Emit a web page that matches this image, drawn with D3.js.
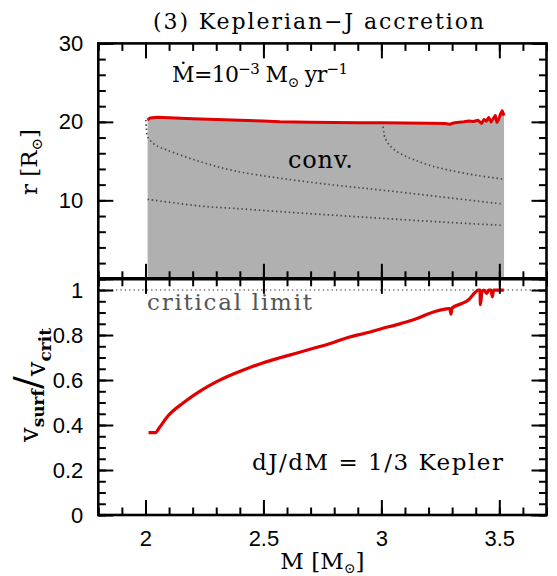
<!DOCTYPE html>
<html><head><meta charset="utf-8">
<script src="https://cdn.jsdelivr.net/npm/d3@7"></script>
<style>body{margin:0;background:#fff}</style>
</head><body>
<svg id="c" width="557" height="576"></svg>
<script>
// ---------- data ----------
const titleText = "(3) Keplerian\u2212J accretion";
const xMajorTicks = [2, 2.5, 3, 3.5];
const xTickLabels = ["2", "2.5", "3", "3.5"];
const rMajorTicks = [0, 10, 20, 30];
const rTickLabels = ["", "10", "20", "30"];
const vMajorTicks = [0, 0.2, 0.4, 0.6, 0.8, 1];
const vTickLabels = ["0", "0.2", "0.4", "0.6", "0.8", "1"];

// stellar radius (top panel, red line + convective region top)
const radiusMass = [2.009, 2.02, 2.05, 2.1, 2.2, 2.3, 2.4, 2.5, 2.57, 2.7, 2.8, 2.9, 3.0, 3.1, 3.2, 3.27, 3.29, 3.31, 3.35, 3.37, 3.39, 3.41, 3.425, 3.435, 3.445, 3.455, 3.465, 3.475, 3.483, 3.49, 3.497, 3.505, 3.512, 3.52];
const radiusR    = [20.24, 20.5, 20.58, 20.52, 20.4, 20.3, 20.2, 20.1, 20.02, 19.96, 19.92, 19.9, 19.88, 19.84, 19.82, 19.78, 19.7, 19.88, 20.02, 20.12, 20.05, 20.2, 19.82, 20.3, 20.1, 20.55, 20.0, 20.45, 20.8, 19.95, 20.3, 21.0, 21.4, 20.8];

// dotted inner structure lines (top panel)
const dot1Mass = [2.002, 2.004, 2.009, 2.04, 2.091, 2.233, 2.375, 2.574, 2.8, 3.0, 3.25, 3.515];
const dot1R    = [20.24, 19.2, 18.1, 17.1, 16.41, 14.92, 13.77, 12.8, 11.95, 11.31, 10.45, 9.53];
const dot2Mass = [2.009, 2.233, 2.375, 2.574, 2.8, 3.0, 3.25, 3.515];
const dot2R    = [10.13, 9.27, 8.98, 8.55, 8.1, 7.71, 7.25, 6.81];
const dot3Mass = [3.007, 3.01, 3.014, 3.03, 3.057, 3.1, 3.142, 3.2, 3.284, 3.4, 3.515];
const dot3R    = [19.38, 18.8, 18.11, 17.2, 16.41, 15.65, 15.14, 14.5, 13.86, 13.2, 12.71];

// surface velocity / critical (bottom panel)
const vMass = [2.013, 2.042, 2.06, 2.091, 2.162, 2.233, 2.3, 2.375, 2.44, 2.5, 2.574, 2.65, 2.716, 2.79, 2.858, 2.93, 3.0, 3.085, 3.142, 3.227, 3.27, 3.29, 3.295, 3.3, 3.341, 3.369, 3.398, 3.41, 3.418, 3.42, 3.426, 3.435, 3.447, 3.455, 3.465, 3.47, 3.476, 3.519];
const vRatio = [0.366, 0.366, 0.39, 0.435, 0.5, 0.552, 0.592, 0.628, 0.655, 0.677, 0.7, 0.722, 0.742, 0.765, 0.789, 0.808, 0.828, 0.852, 0.87, 0.905, 0.915, 0.918, 0.893, 0.92, 0.94, 0.956, 0.99, 1.0, 1.0, 0.935, 0.99, 1.0, 0.985, 1.0, 1.0, 0.97, 1.0, 1.0];
const criticalLimit = 1;

// ---------- layout ----------
const svg = d3.select("#c");
const L = 98.3, R = 546.5, T = 43.4, MID = 278.8, B = 515;
const serif = "'DejaVu Serif', serif";
const sans = "'Liberation Sans', Arial, sans-serif";

const x = d3.scaleLinear().domain([1.8, 3.7]).range([L, R]);
const yR = d3.scaleLinear().domain([0, 30]).range([MID, T]);
const yV = d3.scaleLinear().domain([0, 1.05]).range([B, MID]);

const xMinor = d3.range(18, 38).map(d => d / 10);
const rMinor = d3.range(0, 31, 2);
const vMinor = d3.range(0, 22).map(d => d * 0.05);

// ---------- top panel ----------
const topG = svg.append("g");
topG.append("path")
  .datum(radiusMass.map((m, i) => [m, radiusR[i]]))
  .attr("fill", "#b0b0b0")
  .attr("d", d3.area().x(d => x(d[0])).y0(yR(0)).y1(d => yR(d[1])));

[[dot1Mass, dot1R], [dot2Mass, dot2R], [dot3Mass, dot3R]].forEach(([ms, rs]) => {
  topG.append("path")
    .datum(ms.map((m, i) => [m, rs[i]]))
    .attr("fill", "none").attr("stroke", "#4a4a4a").attr("stroke-width", 1.7)
    .attr("stroke-dasharray", "1.5,2.8").attr("stroke-linecap", "butt")
    .attr("d", d3.line().x(d => x(d[0])).y(d => yR(d[1])).curve(d3.curveCatmullRom));
});

topG.append("path")
  .datum(radiusMass.map((m, i) => [m, radiusR[i]]))
  .attr("fill", "none").attr("stroke", "#e00000").attr("stroke-width", 3)
  .attr("stroke-linejoin", "round")
  .attr("d", d3.line().x(d => x(d[0])).y(d => yR(d[1])));

// ---------- bottom panel ----------
const botG = svg.append("g");
botG.append("line")
  .attr("x1", L).attr("x2", R).attr("y1", yV(criticalLimit)).attr("y2", yV(criticalLimit))
  .attr("stroke", "#777").attr("stroke-width", 1.5).attr("stroke-dasharray", "1.4,3");

botG.append("path")
  .datum(vMass.map((m, i) => [m, vRatio[i]]))
  .attr("fill", "none").attr("stroke", "#e00000").attr("stroke-width", 3.2)
  .attr("stroke-linejoin", "round")
  .attr("d", d3.line().x(d => x(d[0])).y(d => yV(d[1])).curve(d3.curveMonotoneX));

// ---------- axes ----------
function styleAxis(g) {
  g.select(".domain").remove();
  g.selectAll(".tick line").attr("stroke", "#000").attr("stroke-width", 2);
  g.selectAll(".tick text").attr("font-family", sans).attr("font-size", 22).attr("fill", "#000");
}
function addAxis(axisFn, scale, translate, major, minor, labels, pad) {
  svg.append("g").attr("transform", translate)
    .call(axisFn(scale).tickValues(minor).tickSize(-7.5).tickFormat(""))
    .call(styleAxis);
  const a = axisFn(scale).tickValues(major).tickSize(-15).tickPadding(pad || 3)
    .tickFormat((d, i) => labels ? labels[i] : "");
  svg.append("g").attr("transform", translate).call(a).call(styleAxis);
}
// top panel
addAxis(d3.axisTop, x, `translate(0,${T})`, xMajorTicks, xMinor, null);
addAxis(d3.axisBottom, x, `translate(0,${MID})`, xMajorTicks, xMinor, null);
addAxis(d3.axisLeft, yR, `translate(${L},0)`, rMajorTicks, rMinor, rTickLabels, 15);
addAxis(d3.axisRight, yR, `translate(${R},0)`, rMajorTicks, rMinor, null);
// bottom panel
addAxis(d3.axisTop, x, `translate(0,${MID})`, xMajorTicks, xMinor, null);
addAxis(d3.axisBottom, x, `translate(0,${B})`, xMajorTicks, xMinor, xTickLabels, 15);
addAxis(d3.axisLeft, yV, `translate(${L},0)`, vMajorTicks, vMinor, vTickLabels, 15);
addAxis(d3.axisRight, yV, `translate(${R},0)`, vMajorTicks, vMinor, null);

// frames
svg.append("rect").attr("x", L).attr("y", T).attr("width", R - L).attr("height", B - T)
  .attr("fill", "none").attr("stroke", "#000").attr("stroke-width", 2.6);
svg.append("line").attr("x1", L).attr("x2", R).attr("y1", MID).attr("y2", MID)
  .attr("stroke", "#000").attr("stroke-width", 3.4);

// ---------- texts ----------
svg.append("text").attr("x", 153).attr("y", 29)
  .attr("font-family", serif).attr("font-size", 22)
  .attr("textLength", 331).attr("lengthAdjust", "spacing").text(titleText);

const mdot = svg.append("text").attr("x", 172).attr("y", 82)
  .attr("font-family", serif).attr("font-size", 22)
  .attr("textLength", 176).attr("lengthAdjust", "spacing");
mdot.append("tspan").text("\u1E40=10");
mdot.append("tspan").attr("dy", -8).attr("font-size", 15).text("\u22123");
mdot.append("tspan").attr("dy", 8).text(" M");
mdot.append("tspan").attr("dy", 5).attr("font-size", 14).text("\u2299");
mdot.append("tspan").attr("dy", -5).text(" yr");
mdot.append("tspan").attr("dy", -8).attr("font-size", 15).text("\u22121");

svg.append("text").attr("x", 288).attr("y", 168)
  .attr("font-family", serif).attr("font-size", 24)
  .attr("textLength", 65).attr("lengthAdjust", "spacing").text("conv.");

svg.append("text").attr("x", 147).attr("y", 310)
  .attr("font-family", serif).attr("font-size", 23).attr("fill", "#555")
  .attr("textLength", 165).attr("lengthAdjust", "spacing").text("critical limit");

svg.append("text").attr("x", 252).attr("y", 470)
  .attr("font-family", serif).attr("font-size", 23)
  .attr("textLength", 251).attr("lengthAdjust", "spacing").text("dJ/dM = 1/3 Kepler");

// axis titles
const rl = svg.append("text").attr("transform", "translate(37,162) rotate(-90)")
  .attr("text-anchor", "middle").attr("font-family", serif).attr("font-size", 23);
rl.append("tspan").text("r [R");
rl.append("tspan").attr("dy", 5).attr("font-size", 15).text("\u2299");
rl.append("tspan").attr("dy", -5).text("]");

const vl = svg.append("text").attr("transform", "translate(38,385) rotate(-90)")
  .attr("text-anchor", "middle").attr("font-family", serif).attr("font-size", 26);
vl.append("tspan").text("v");
vl.append("tspan").attr("dy", 6).attr("font-size", 17).attr("font-weight", "bold").text("surf");
vl.append("tspan").attr("dy", -4).attr("font-size", 38).text("/");
vl.append("tspan").attr("dy", 5).text("v");
vl.append("tspan").attr("dy", 6).attr("font-size", 17).attr("font-weight", "bold").text("crit");

const xl = svg.append("text").attr("x", (L + R) / 2).attr("y", 569)
  .attr("text-anchor", "middle").attr("font-family", serif).attr("font-size", 23);
xl.append("tspan").text("M [M");
xl.append("tspan").attr("dy", 4).attr("font-size", 14).text("\u2299");
xl.append("tspan").attr("dy", -4).text("]");
</script>
</body></html>
